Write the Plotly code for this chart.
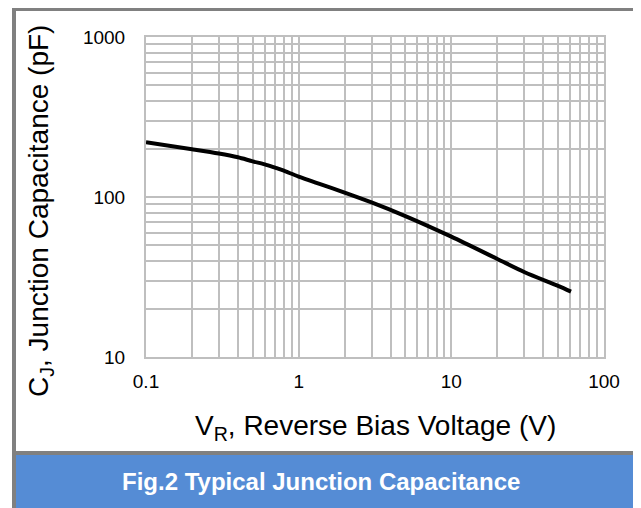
import plotly.graph_objects as go

# Data
voltage = [0.1, 0.2, 0.3, 0.4, 0.5, 0.6, 0.7, 0.8, 1, 2, 3, 5, 10, 20, 30, 50, 60.8]
capacitance = [220, 199, 187, 177, 167, 160, 152.5, 146, 134, 106.5, 92.5, 76, 56.5, 41, 34, 27.8, 25.6]

x_ticks = [0.1, 1, 10, 100]
x_tick_labels = ["0.1", "1", "10", "100"]
y_ticks = [10, 100, 1000]
y_tick_labels = ["10", "100", "1000"]
x_minor = [m * d for d in (0.1, 1, 10) for m in range(2, 10)]
y_minor = [m * d for d in (10, 100) for m in range(2, 10)]

# The page body adds an 8px offset, so the figure is drawn 8px smaller
OFF = 8
W, H = 641 - OFF, 508 - OFF
# plot area in reference-pixel coordinates
L, R, T, B = 146, 604, 37, 357


def px(x):
    return (x - L) / (R - L)


def py(y):
    return (B - y) / (B - T)


GRID = "#BFBFBF"
FONT = "Liberation Sans, Arial, sans-serif"

fig = go.Figure()
fig.add_trace(go.Scatter(
    x=voltage, y=capacitance, mode="lines",
    line=dict(color="black", width=4, shape="spline", smoothing=0.8),
    hoverinfo="skip", showlegend=False,
))

fig.update_layout(
    width=W, height=H,
    margin=dict(l=L - OFF, r=(641 - R), t=T - OFF, b=(508 - B), pad=0),
    paper_bgcolor="white", plot_bgcolor="rgba(0,0,0,0)",
    font=dict(family=FONT, color="black"),
    showlegend=False,
)

fig.update_xaxes(
    type="log", range=[-1, 2],
    tickmode="array", tickvals=x_ticks, ticktext=x_tick_labels,
    tickfont=dict(size=19, family=FONT, color="black"),
    ticks="", ticklabelstandoff=6,
    showgrid=True, gridcolor=GRID, gridwidth=2,
    showline=True, linecolor=GRID, linewidth=2, mirror=True,
    zeroline=False,
    minor=dict(tickmode="array", tickvals=x_minor, showgrid=True,
               gridcolor=GRID, gridwidth=2, ticks=""),
)
fig.update_yaxes(
    type="log", range=[1, 3],
    tickmode="array", tickvals=y_ticks, ticktext=y_tick_labels,
    tickfont=dict(size=19, family=FONT, color="black"),
    ticks="", ticklabelstandoff=15,
    showgrid=True, gridcolor=GRID, gridwidth=2,
    showline=True, linecolor=GRID, linewidth=2, mirror=True,
    zeroline=False,
    minor=dict(tickmode="array", tickvals=y_minor, showgrid=True,
               gridcolor=GRID, gridwidth=2, ticks=""),
)

# Frame: grey border, white panel, blue caption band (reference pixel coords)
fig.add_shape(type="rect", xref="paper", yref="paper", layer="below",
              x0=px(12), x1=px(645), y0=py(7), y1=py(512),
              fillcolor="#808080", line_width=0)
fig.add_shape(type="rect", xref="paper", yref="paper", layer="below",
              x0=px(16), x1=px(637), y0=py(11), y1=py(451),
              fillcolor="white", line_width=0)
fig.add_shape(type="rect", xref="paper", yref="paper", layer="below",
              x0=px(16), x1=px(637), y0=py(455), y1=py(512),
              fillcolor="#558CD5", line_width=0)

fig.add_annotation(
    xref="paper", yref="paper", x=px(375), y=py(427),
    xanchor="center", yanchor="middle", showarrow=False,
    text="V<sub>R</sub>, Reverse Bias Voltage (V)",
    font=dict(size=28, family=FONT, color="black"),
)
fig.add_annotation(
    xref="paper", yref="paper", x=px(40), y=py(211),
    xanchor="center", yanchor="middle", showarrow=False, textangle=-90,
    text="C<sub>J</sub>, Junction Capacitance (pF)",
    font=dict(size=28, family=FONT, color="black"),
)
fig.add_annotation(
    xref="paper", yref="paper", x=px(120), y=py(481),
    xanchor="left", yanchor="middle", showarrow=False,
    text="<b>Fig.2 Typical Junction Capacitance</b>",
    font=dict(size=24, family=FONT, color="white"),
)

fig.write_html("out.html")
